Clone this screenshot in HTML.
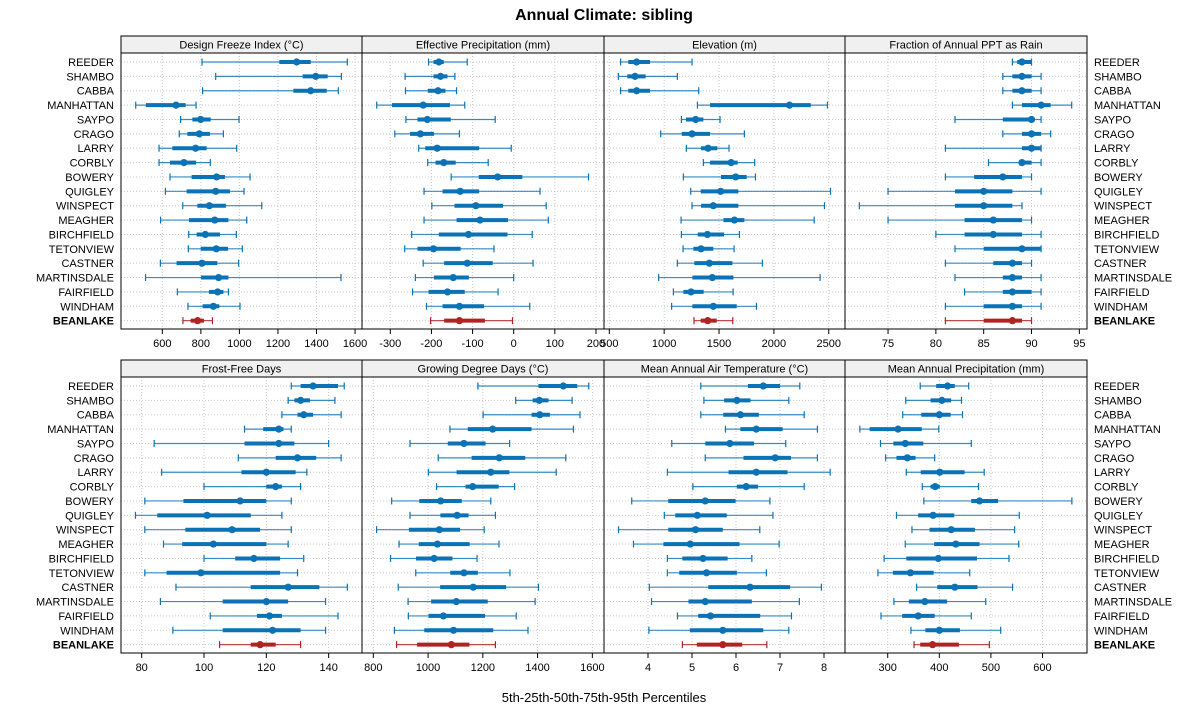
<!DOCTYPE html>
<html><head><meta charset="utf-8">
<style>
html,body{margin:0;padding:0;background:#fff;}
svg{display:block;font-family:"Liberation Sans",Arial,sans-serif;}
</style></head>
<body>
<svg id="chart" width="1200" height="725" viewBox="0 0 1200 725" xmlns="http://www.w3.org/2000/svg">
<text x="604" y="20" text-anchor="middle" font-size="16" font-weight="bold">Annual Climate: sibling</text>
<text x="604" y="702" text-anchor="middle" font-size="13">5th-25th-50th-75th-95th Percentiles</text>
</svg>
<script>
const sites = ["REEDER","SHAMBO","CABBA","MANHATTAN","SAYPO","CRAGO","LARRY","CORBLY","BOWERY","QUIGLEY","WINSPECT","MEAGHER","BIRCHFIELD","TETONVIEW","CASTNER","MARTINSDALE","FAIRFIELD","WINDHAM","BEANLAKE"];

const freezeP5  = [806,877,809,462,695,688,583,583,640,616,706,591,737,735,590,513,678,733,707];
const freezeP25 = [1207,1328,1280,515,756,730,652,640,752,726,782,738,778,799,674,801,842,809,747];
const freezeP50 = [1297,1396,1370,671,799,792,773,712,882,877,844,872,823,880,806,892,887,865,783];
const freezeP75 = [1370,1458,1453,721,851,847,830,775,925,951,930,943,899,941,885,943,917,896,816];
const freezeP95 = [1560,1529,1513,775,998,917,986,849,1055,1024,1116,1038,984,1015,996,1527,943,1003,860];

const effP5  = [-207,-264,-263,-333,-262,-289,-231,-209,-152,-218,-199,-218,-248,-265,-220,-239,-246,-212,-202];
const effP25 = [-195,-195,-209,-296,-234,-252,-215,-190,-85,-173,-144,-139,-182,-234,-169,-194,-207,-173,-169];
const effP50 = [-182,-178,-184,-220,-210,-227,-186,-170,-39,-130,-92,-82,-110,-195,-113,-147,-161,-132,-132];
const effP75 = [-170,-161,-166,-155,-153,-194,-84,-141,21,-84,-26,-14,-15,-129,-51,-109,-119,-72,-70];
const effP95 = [-113,-143,-139,-119,-45,-132,-6,-62,182,64,79,84,45,-48,47,0,-38,39,-3];

const elevP5  = [603,582,603,1303,1157,968,1202,1357,1175,1242,1254,1154,1157,1172,1120,950,1084,1068,1272];
const elevP25 = [673,664,673,1418,1199,1160,1336,1418,1518,1333,1336,1540,1306,1266,1275,1257,1175,1257,1333];
const elevP50 = [749,734,749,2142,1287,1254,1400,1610,1652,1515,1448,1640,1394,1336,1412,1439,1245,1448,1397];
const elevP75 = [871,831,871,2336,1357,1418,1485,1670,1752,1676,1676,1731,1546,1448,1622,1631,1360,1661,1479];
const elevP95 = [1254,1120,1315,2488,1509,1731,1591,1825,1832,2516,2461,2367,1686,1637,1895,2421,1628,1841,1625];

const rainP5  = [88,87,87,88,82,87,81,85.5,81,75,72,75,80,82,81,82,83,81,81];
const rainP25 = [88.5,88,88,89,87,89,89,89,84,82,82,83,83,85,86,87,87,85,85];
const rainP50 = [89,89,89,91,90,90,90,89,87,85,85,86,86,89,88,88,88,88,88];
const rainP75 = [90,90,90,92,90,91,91,90,89,88,88,89,89,91,89,89,90,89,89];
const rainP95 = [90,91,91,94.2,91,92,91,91,90,91,89,90,91,91,90,91,91,91,90];

const frostP5  = [128,127,125,113,84,111,86.4,100,81,78,81,87,100,81,91,86,102,90,105];
const frostP25 = [131,129,130,119,113,123,112,120,93.4,85,94,93,110,88,115,106,117,106,115];
const frostP50 = [135,131,132,124,124,130,120,123,111.6,101,109,103,116,99,127,120,121,122,118];
const frostP75 = [143,134,135,125.5,129,136,129.4,125,120,115,118,120,124.4,124.4,137,127,125,131,123];
const frostP95 = [145,142,144,128,140,144,133,131,128,125,128,127,132,130,146,139,143,139,131];

const gddP5  = [1182,1320,1201,1080,934,1037,1001,1031,867,934,812,894,863,955,891,927,928,877,885];
const gddP25 = [1403,1382,1378,1145,1072,1159,1104,1137,968,1045,930,966,956,1081,1044,1011,1002,986,960];
const gddP50 = [1494,1406,1408,1236,1131,1260,1229,1163,1046,1106,1041,1034,1022,1131,1165,1103,1056,1093,1085];
const gddP75 = [1545,1440,1445,1378,1210,1355,1297,1258,1123,1148,1117,1152,1089,1182,1285,1218,1208,1238,1151];
const gddP95 = [1587,1526,1555,1531,1298,1503,1468,1316,1229,1246,1205,1259,1179,1299,1403,1391,1322,1365,1246];

const tempP5  = [5.2,5.27,5.2,5.76,4.54,5.3,4.44,5.02,3.63,4.37,3.33,3.67,4.44,4.44,4.03,4.08,4.67,4.02,4.78];
const tempP25 = [6.27,5.73,5.71,6.1,5.3,6.17,5.83,6.02,4.46,4.62,4.46,4.35,4.78,4.71,5.37,4.92,5.14,4.95,5.11];
const tempP50 = [6.62,6.02,6.1,6.46,5.86,6.89,6.46,6.23,5.3,5.12,5.08,4.96,5.25,5.33,6.32,5.3,5.42,5.7,5.7];
const tempP75 = [7.0,6.33,6.52,7.06,6.41,7.25,7.17,6.5,5.99,5.79,5.7,6.08,5.81,6.02,7.23,6.36,6.55,6.62,6.14];
const tempP95 = [7.45,7.2,7.55,7.85,7.13,7.85,8.14,7.55,6.77,6.84,6.54,6.98,6.36,6.69,7.94,7.44,7.26,7.2,6.7];

const mapP5  = [363,335,329,246,286,296,336,367,370,317,347,334,293,281,356,312,287,345,351];
const mapP25 = [394,383,365,265,311,317,364,383,462,359,381,390,336,310,396,341,328,373,363];
const mapP50 = [416,405,400,320,334,338,401,392,478,388,423,432,398,344,430,372,359,400,387];
const mapP75 = [430,423,422,366,369,354,449,401,514,429,469,478,473,389,474,415,391,440,438];
const mapP95 = [457,443,445,399,462,391,487,476,657,555,546,554,535,459,542,490,462,519,497];

const freezeTicks = [600,800,1000,1200,1400,1600];
const effTicks = [-300,-200,-100,0,100,200];
const elevTicks = [500,1000,1500,2000,2500];
const rainTicks = [75,80,85,90,95];
const frostTicks = [80,100,120,140];
const gddTicks = [800,1000,1200,1400,1600];
const tempTicks = [4,5,6,7,8];
const mapTicks = [300,400,500,600];

const NS = "http://www.w3.org/2000/svg";
const svg = document.getElementById("chart");
function mk(tag, attrs, parent){
  const e = document.createElementNS(NS, tag);
  for (const k in attrs) e.setAttribute(k, attrs[k]);
  (parent||svg).appendChild(e);
  return e;
}
const edges = [121,362,604,845,1087];
const panels = [
  {t:"Design Freeze Index (\u00B0C)", col:0, row:0, d:[385.7,1636], ticks:freezeTicks, p:[freezeP5,freezeP25,freezeP50,freezeP75,freezeP95], n:"freeze"},
  {t:"Effective Precipitation (mm)", col:1, row:0, d:[-368.8,219.5], ticks:effTicks, p:[effP5,effP25,effP50,effP75,effP95], n:"effective-precip"},
  {t:"Elevation (m)", col:2, row:0, d:[451.7,2648], ticks:elevTicks, p:[elevP5,elevP25,elevP50,elevP75,elevP95], n:"elevation"},
  {t:"Fraction of Annual PPT as Rain", col:3, row:0, d:[70.5,95.8], ticks:rainTicks, p:[rainP5,rainP25,rainP50,rainP75,rainP95], n:"rain-fraction"},
  {t:"Frost-Free Days", col:0, row:1, d:[73.36,150.7], ticks:frostTicks, p:[frostP5,frostP25,frostP50,frostP75,frostP95], n:"frost-free"},
  {t:"Growing Degree Days (\u00B0C)", col:1, row:1, d:[758.7,1642.6], ticks:gddTicks, p:[gddP5,gddP25,gddP50,gddP75,gddP95], n:"gdd"},
  {t:"Mean Annual Air Temperature (\u00B0C)", col:2, row:1, d:[3.0,8.477], ticks:tempTicks, p:[tempP5,tempP25,tempP50,tempP75,tempP95], n:"air-temp"},
  {t:"Mean Annual Precipitation (mm)", col:3, row:1, d:[217.2,686.3], ticks:mapTicks, p:[mapP5,mapP25,mapP50,mapP75,mapP95], n:"annual-precip"}
];
const rowGeom = [{st:36, top:53, bot:329, y0:62}, {st:360, top:377, bot:653, y0:386}];
const step = 14.37;

// site labels
rowGeom.forEach((g,ri)=>{
  sites.forEach((s,i)=>{
    const y = g.y0 + i*step + 4;
    const bold = s==="BEANLAKE" ? "bold" : "normal";
    const l = mk("text",{x:114,y:y,"text-anchor":"end","font-size":11,"font-weight":bold});
    
    
    l.textContent = s;
    const r = mk("text",{x:1094,y:y,"text-anchor":"start","font-size":11,"font-weight":bold});
    
    
    r.textContent = s;
  });
});

panels.forEach(P=>{
  const L = edges[P.col], R = edges[P.col+1], g = rowGeom[P.row];
  const W = R-L;
  const xs = v => L + (v-P.d[0])/(P.d[1]-P.d[0])*W;
  const ys = i => g.y0 + i*step;
  const grp = mk("g",{});
  
  
  // strip
  const st = mk("rect",{x:L,y:g.st,width:W,height:g.top-g.st,fill:"#f0f0f0",stroke:"#000","stroke-width":1},grp);
  
  
  const stt = mk("text",{x:L+W/2,y:g.st+12.5,"text-anchor":"middle","font-size":11},grp);
  
  
  stt.textContent = P.t;
  // grid
  P.ticks.forEach(t=>{
    const x = xs(t);
    const gl = mk("line",{x1:x,x2:x,y1:g.top,y2:g.bot,stroke:"#c8c8c8","stroke-dasharray":"1,2"},grp);
    
    
    const tk = mk("line",{x1:x,x2:x,y1:g.bot,y2:g.bot+5,stroke:"#000"},grp);
    
    
    const tl = mk("text",{x:x,y:g.bot+18,"text-anchor":"middle","font-size":11},grp);
    
    
    tl.textContent = t;
  });
  sites.forEach((s,i)=>{
    const gl = mk("line",{x1:L,x2:R,y1:ys(i),y2:ys(i),stroke:"#c8c8c8","stroke-dasharray":"1,2"},grp);
    
    
  });
  // marks
  sites.forEach((s,i)=>{
    const y = ys(i);
    const c = s==="BEANLAKE" ? "#b22222" : "#0a72b5";
    const x5=xs(P.p[0][i]), x25=xs(P.p[1][i]), x50=xs(P.p[2][i]), x75=xs(P.p[3][i]), x95=xs(P.p[4][i]);
    const w = mk("line",{x1:x5,x2:x95,y1:y,y2:y,stroke:c,"stroke-width":1.2,"stroke-opacity":0.8},grp);
    
    
    const c1 = mk("line",{x1:x5,x2:x5,y1:y-3.5,y2:y+3.5,stroke:c,"stroke-width":1.2},grp);
    
    
    const c2 = mk("line",{x1:x95,x2:x95,y1:y-3.5,y2:y+3.5,stroke:c,"stroke-width":1.2},grp);
    
    
    const b = mk("line",{x1:x25,x2:x75,y1:y,y2:y,stroke:c,"stroke-width":4},grp);
    
    
    const d = mk("circle",{cx:x50,cy:y,r:3.6,fill:c},grp);
    
    
  });
  const fr = mk("rect",{x:L,y:g.top,width:W,height:g.bot-g.top,fill:"none",stroke:"#000","stroke-width":1},grp);
  
  
});
</script>
</body></html>
